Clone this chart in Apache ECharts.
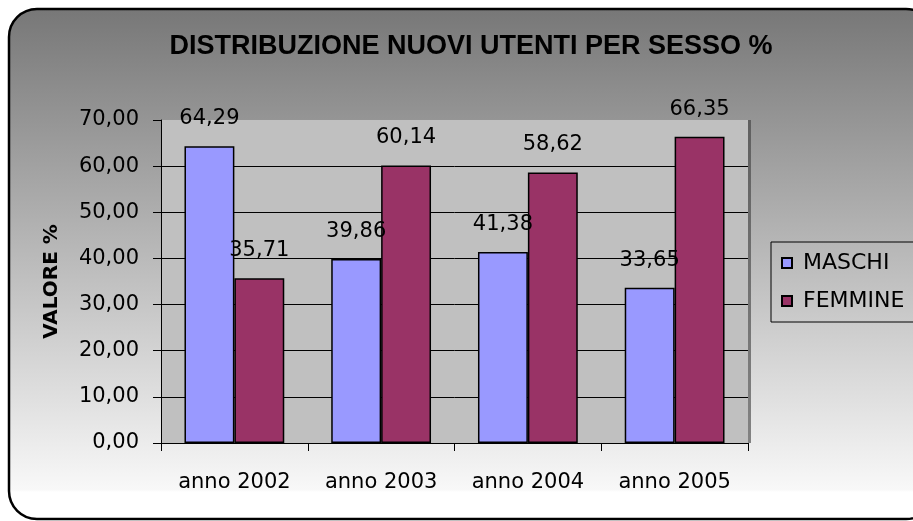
<!DOCTYPE html>
<html><head><meta charset="utf-8">
<script src="https://cdn.jsdelivr.net/npm/echarts@6/dist/echarts.min.js"></script>
<style>html,body{margin:0;padding:0;background:#fff}#c{width:913px;height:521px}</style>
</head><body><div id="c"></div>
<script>
const categories = ['anno 2002', 'anno 2003', 'anno 2004', 'anno 2005'];
const maschi = [64.29, 39.86, 41.38, 33.65];
const femmine = [35.71, 60.14, 58.62, 66.35];
const seriesNames = ['MASCHI', 'FEMMINE'];
const titleText = 'DISTRIBUZIONE NUOVI UTENTI PER SESSO %';
const yName = 'VALORE %';
const yMin = 0, yMax = 70, yStep = 10;

const fmt = v => Number(v).toFixed(2).replace('.', ',');
const FONT = 'DejaVu Sans';
const chart = echarts.init(document.getElementById('c'), null, {renderer: 'canvas'});

const barLabel = {
  show: true, position: 'top', distance: 17,
  fontFamily: FONT, fontSize: 21, color: '#000',
  formatter: p => fmt(p.value)
};

chart.setOption({
  animation: false,
  graphic: {
    elements: [{
      type: 'rect', z: -100, silent: true,
      shape: {x: 9, y: 9, width: 925, height: 510, r: 28},
      style: {
        fill: new echarts.graphic.LinearGradient(0, 0, 0, 1, [
          {offset: 0, color: '#777777'},
          {offset: 0.94, color: '#f8f8f8'},
          {offset: 0.945, color: '#ffffff'},
          {offset: 1, color: '#ffffff'}
        ]),
        stroke: '#000', lineWidth: 2.5
      }
    }]
  },
  title: {
    text: titleText, left: 471, top: 33, textAlign: 'center', padding: 0,
    textStyle: {fontFamily: 'Liberation Sans', fontWeight: 'bold', fontSize: 27, color: '#000'}
  },
  legend: {
    orient: 'vertical', left: 771, top: 242,
    padding: [9, 13, 9, 10], itemGap: 14, itemWidth: 10, itemHeight: 10,
    borderColor: '#000', borderWidth: 1, icon: 'rect',
    textStyle: {fontFamily: FONT, fontSize: 22, color: '#000', lineHeight: 24, padding: [0, 0, 0, 6]},
    data: seriesNames
  },
  grid: {
    left: 161, top: 120, right: 165, bottom: 78, show: true,
    backgroundColor: '#c0c0c0', borderWidth: 0,
    shadowColor: 'rgba(60,60,60,0.6)', shadowOffsetX: 3, shadowOffsetY: 0, shadowBlur: 0
  },
  xAxis: {
    type: 'category', data: categories,
    axisLine: {lineStyle: {color: '#000', width: 1}},
    axisTick: {show: true, length: 8, lineStyle: {color: '#000'}},
    axisLabel: {fontFamily: FONT, fontSize: 21, color: '#000', margin: 29}
  },
  yAxis: {
    type: 'value', min: yMin, max: yMax, interval: yStep,
    name: yName, nameLocation: 'middle', nameRotate: 90, nameGap: 99,
    nameTextStyle: {fontFamily: FONT, fontWeight: 'bold', fontSize: 20, color: '#000'},
    axisLine: {show: true, lineStyle: {color: '#000', width: 1}},
    axisTick: {show: true, length: 8, lineStyle: {color: '#000'}},
    axisLabel: {fontFamily: FONT, fontSize: 21, color: '#000', margin: 22, formatter: v => fmt(v)},
    splitLine: {show: true, lineStyle: {color: ['#000', '#000', '#000', '#000', '#000', '#000', '#000', 'rgba(0,0,0,0)'], width: 1}}
  },
  series: [
    {name: seriesNames[0], type: 'bar', data: maschi, barGap: '0%', barCategoryGap: '32%',
     itemStyle: {color: '#9999ff', borderColor: '#000', borderWidth: 1.5}, label: barLabel},
    {name: seriesNames[1], type: 'bar', data: femmine, barGap: '0%', barCategoryGap: '32%',
     itemStyle: {color: '#993366', borderColor: '#000', borderWidth: 1.5}, label: barLabel}
  ]
});
</script></body></html>
